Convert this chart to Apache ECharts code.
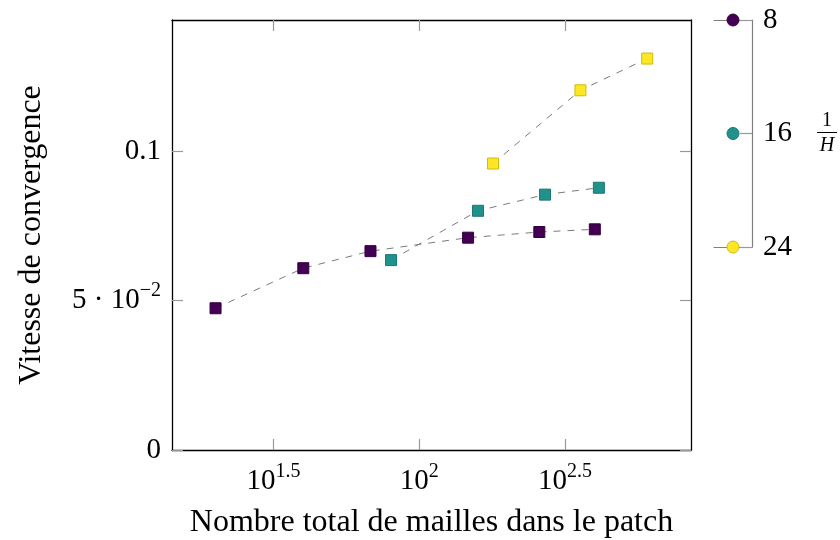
<!DOCTYPE html>
<html>
<head>
<meta charset="utf-8">
<script src="https://cdn.jsdelivr.net/npm/echarts@6/dist/echarts.min.js"></script>
<style>html,body{margin:0;padding:0;background:#fff}#c{width:840px;height:540px}</style>
</head>
<body>
<div id="c"></div>
<script>
// Data
const nCells8 = [20, 40, 68, 147, 258, 400];
const speed8 = [0.0474, 0.0608, 0.0665, 0.0710, 0.0729, 0.0738];
const nCells16 = [80, 159, 270, 413];
const speed16 = [0.0635, 0.0800, 0.0854, 0.0877];
const nCells24 = [179, 357, 605];
const speed24 = [0.0958, 0.1203, 0.1309];
const hValues = [8, 16, 24];
const hColors = ['#440154', '#21918c', '#fde725'];
const hBorders = ['#35013f', '#1a7773', '#cfbb10'];
const xTickExp = [1.5, 2, 2.5];
const yTicks = [0, 0.05, 0.1];
const xTitle = 'Nombre total de mailles dans le patch';
const yTitle = 'Vitesse de convergence';

const FONT = 'Liberation Serif';
const FS = 29;
const FT = 32;
const xTickValues = xTickExp.map(e => Math.pow(10, e));

function pairs(xs, ys) { return xs.map((x, i) => [x, ys[i]]); }

const tickStyle = { show: true, inside: true, length: 11, lineStyle: { color: '#999', width: 1.2 } };
const frameLine = { show: true, onZero: false, lineStyle: { color: '#000', width: 1.3 } };

function lineSeries(xs, ys, idx) {
  return {
    type: 'line', xAxisIndex: 0, yAxisIndex: 0,
    data: pairs(xs, ys),
    symbol: 'rect', symbolSize: 11,
    lineStyle: { color: '#7a7a7a', width: 1, type: [7, 7] },
    itemStyle: { color: hColors[idx], borderColor: hBorders[idx], borderWidth: 1, opacity: 1 },
    emphasis: { disabled: true },
    animation: false
  };
}

const chart = echarts.init(document.getElementById('c'), null, { renderer: 'canvas' });
chart.setOption({
  animation: false,
  textStyle: { fontFamily: FONT },
  grid: [
    { left: 172, top: 20, width: 519, height: 430, containLabel: false, outerBoundsMode: 'none' },
    { left: 714, top: 20, width: 38, height: 227, containLabel: false, outerBoundsMode: 'none' }
  ],
  xAxis: [
    {
      type: 'log', logBase: 10, gridIndex: 0, position: 'bottom',
      min: 14.18, max: 855,
      axisLine: frameLine,
      axisTick: Object.assign({ customValues: xTickValues }, tickStyle),
      minorTick: { show: false }, splitLine: { show: false },
      axisLabel: {
        customValues: xTickValues, margin: 12,
        formatter: function (v) {
          const e = Math.round(Math.log10(v) * 10) / 10;
          return '{b|10}{s|' + e + '}';
        },
        rich: {
          b: { fontFamily: FONT, fontSize: FS, color: '#000' },
          s: { fontFamily: FONT, fontSize: 20, color: '#000', padding: [0, 0, 19, 0] }
        }
      },
      name: xTitle, nameLocation: 'middle', nameGap: 57,
      nameTextStyle: { fontFamily: FONT, fontSize: FT, color: '#000' }
    },
    {
      type: 'log', logBase: 10, gridIndex: 0, position: 'top',
      min: 14.18, max: 855,
      axisLine: frameLine,
      axisTick: Object.assign({ customValues: xTickValues }, tickStyle),
      minorTick: { show: false }, splitLine: { show: false },
      axisLabel: { show: false }
    },
    {
      type: 'value', gridIndex: 1, position: 'top', min: 0, max: 1,
      axisLine: { show: true, onZero: false, lineStyle: { color: '#808080', width: 1.2 } },
      axisTick: { show: false }, axisLabel: { show: false }, splitLine: { show: false }
    },
    {
      type: 'value', gridIndex: 1, position: 'bottom', min: 0, max: 1,
      axisLine: { show: true, onZero: false, lineStyle: { color: '#808080', width: 1.2 } },
      axisTick: { show: false }, axisLabel: { show: false }, splitLine: { show: false }
    }
  ],
  yAxis: [
    {
      type: 'value', gridIndex: 0, position: 'left',
      min: 0, max: 0.1438,
      axisLine: frameLine,
      axisTick: Object.assign({ customValues: yTicks }, tickStyle),
      splitLine: { show: false },
      axisLabel: {
        customValues: yTicks, margin: 11,
        formatter: function (v) {
          if (Math.abs(v) < 1e-9) return '{b|0}';
          if (Math.abs(v - 0.05) < 1e-9) return '{b|5 · 10}{s|−2}';
          return '{b|0.1}';
        },
        rich: {
          b: { fontFamily: FONT, fontSize: FS, color: '#000' },
          s: { fontFamily: FONT, fontSize: 20, color: '#000', padding: [0, 0, 19, 0] }
        }
      },
      name: yTitle, nameLocation: 'middle', nameGap: 124,
      nameTextStyle: { fontFamily: FONT, fontSize: FT, color: '#000' }
    },
    {
      type: 'value', gridIndex: 0, position: 'right',
      min: 0, max: 0.1438,
      axisLine: frameLine,
      axisTick: Object.assign({ customValues: yTicks }, tickStyle),
      splitLine: { show: false }, axisLabel: { show: false }
    },
    {
      type: 'value', gridIndex: 1, position: 'right',
      min: 8, max: 24, interval: 8, inverse: true,
      axisLine: { show: true, onZero: false, lineStyle: { color: '#808080', width: 1.2 } },
      axisTick: { show: true, inside: true, length: 12, lineStyle: { color: '#999', width: 1.2 } },
      splitLine: { show: false },
      axisLabel: { margin: 11, fontFamily: FONT, fontSize: FS, color: '#000' },
      name: '{n|1}\n{bar| }\n{d|H}', nameLocation: 'middle', nameRotate: 0, nameGap: 65,
      nameTextStyle: {
        rich: {
          n: { fontFamily: FONT, fontSize: 20, color: '#000', align: 'center', lineHeight: 21 },
          bar: { width: 20, height: 1, lineHeight: 3, backgroundColor: '#000', fontSize: 1, align: 'center' },
          d: { fontFamily: FONT, fontSize: 20, fontStyle: 'italic', color: '#000', align: 'center', lineHeight: 23 }
        }
      }
    }
  ],
  series: [
    lineSeries(nCells8, speed8, 0),
    lineSeries(nCells16, speed16, 1),
    lineSeries(nCells24, speed24, 2),
    {
      type: 'scatter', xAxisIndex: 2, yAxisIndex: 2,
      data: hValues.map((h, i) => ({ value: [0.5, h], itemStyle: { color: hColors[i], borderColor: hBorders[i], borderWidth: 1, opacity: 1 } })),
      symbol: 'circle', symbolSize: 12,
      emphasis: { disabled: true }, animation: false
    }
  ]
});
</script>
</body>
</html>
